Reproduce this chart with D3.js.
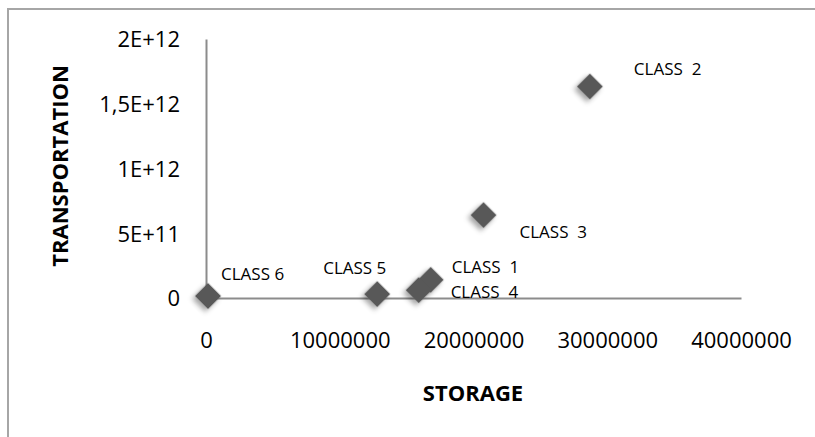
<!DOCTYPE html>
<html>
<head>
<meta http-equiv="Content-Type" content="text/html; charset=UTF-8">
<script src="https://cdn.jsdelivr.net/npm/d3@7"></script>
<style>
body { margin: 0; background: #fff; }
text { font-family: "Open Sans", "DejaVu Sans", sans-serif; fill: #000; }
.tick text { font-size: 22px; }
.axis-title { font-size: 22px; font-weight: bold; }
.point-label { font-size: 17px; white-space: pre; }
</style>
</head>
<body>
<div class="container"></div>
<script>

// chart data
var classes = ["CLASS  1", "CLASS  2", "CLASS  3", "CLASS  4", "CLASS 5", "CLASS 6"];
var storage = [16.8e6, 28.7e6, 20.75e6, 15.9e6, 12.8e6, 0.15e6];
var transportation = [0.14e12, 1.633e12, 0.64e12, 0.06e12, 0.03e12, 0.015e12];

var xTicks = [0, 10000000, 20000000, 30000000, 40000000];
var xTickLabels = ["0", "10000000", "20000000", "30000000", "40000000"];
var yTicks = [0, 5e11, 1e12, 1.5e12, 2e12];
var yTickLabels = ["0", "5E+11", "1E+12", "1,5E+12", "2E+12"];

// where each data label sits relative to its marker
var labelOffsets = [[21, -7], [44, -12], [36, 23], [32, 8], [-54, -20], [13, -16]];

var width = 815;
var height = 437;

var svg = d3.select(".container")
            .append("svg")
                .attr("width", width)
                .attr("height", height);

// outer chart border (only top and left edges are visible in the frame)
svg.append("rect")
   .attr("x", 8)
   .attr("y", 9)
   .attr("width", 900)
   .attr("height", 500)
   .style("fill", "none")
   .style("stroke", "#a6a6a6")
   .style("stroke-width", 2);

var x = d3.scaleLinear().domain([0, 40000000]).range([206, 741]);
var y = d3.scaleLinear().domain([0, 2e12]).range([298, 39]);

// soft drop shadow for the markers
var defs = svg.append("defs");
var shadow = defs.append("filter")
                 .attr("id", "shadow")
                 .attr("x", "-50%").attr("y", "-50%")
                 .attr("width", "200%").attr("height", "200%");
shadow.append("feDropShadow")
      .attr("dx", 0)
      .attr("dy", 4)
      .attr("stdDeviation", 2.5)
      .attr("flood-color", "#000")
      .attr("flood-opacity", 0.35);

var xAxis = svg.append("g")
               .attr("transform", "translate(0," + y(0) + ")")
               .call(d3.axisBottom(x)
                       .tickValues(xTicks)
                       .tickFormat(function(d, i) { return xTickLabels[i]; })
                       .tickSize(0)
                       .tickPadding(34));

var yAxis = svg.append("g")
               .attr("transform", "translate(" + x(0) + ",0)")
               .call(d3.axisLeft(y)
                       .tickValues(yTicks)
                       .tickFormat(function(d, i) { return yTickLabels[i]; })
                       .tickSize(0)
                       .tickPadding(26));

svg.selectAll(".domain")
   .style("stroke", "#8c8c8c")
   .style("stroke-width", 2);
svg.selectAll(".tick text")
   .attr("font-family", null)
   .attr("font-size", null)
   .style("fill", "#000");
yAxis.selectAll(".tick text").attr("dy", "0.36em");

// axis titles
svg.append("text")
   .attr("class", "axis-title")
   .attr("x", 473)
   .attr("y", 401)
   .attr("text-anchor", "middle")
   .text("STORAGE");

svg.append("text")
   .attr("class", "axis-title")
   .attr("text-anchor", "middle")
   .attr("transform", "translate(68,166) rotate(-90)")
   .text("TRANSPORTATION");

// markers
var symbol = d3.symbol().type(d3.symbolSquare).size(340);

svg.selectAll("path.point")
   .data(classes)
   .enter().append("path")
       .attr("class", "point")
       .attr("d", symbol)
       .attr("transform", function(d, i) {
           return "translate(" + x(storage[i]) + "," + y(transportation[i]) + ") rotate(45)";
       })
       .style("fill", "#585858")
       .style("filter", "url(#shadow)");

// data labels
svg.selectAll("text.point-label")
   .data(classes)
   .enter().append("text")
       .attr("class", "point-label")
       .attr("x", function(d, i) { return x(storage[i]) + labelOffsets[i][0]; })
       .attr("y", function(d, i) { return y(transportation[i]) + labelOffsets[i][1]; })
       .text(function(d) { return d; });

</script>
</body>
</html>
